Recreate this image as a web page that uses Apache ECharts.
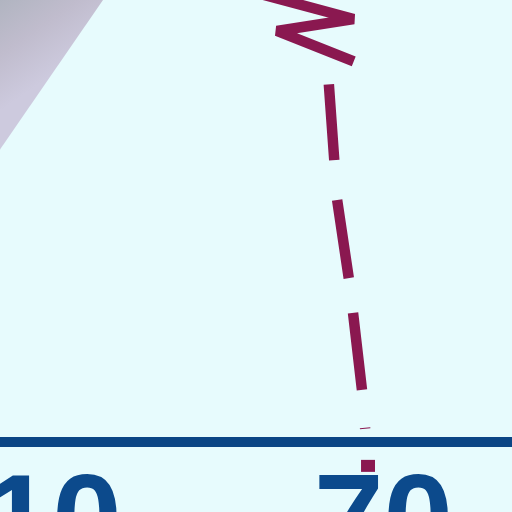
<!DOCTYPE html>
<html style="height: 100%">
   <head>
       <meta charset="utf-8">
       <script src="https://cdn.jsdelivr.net/npm/echarts@6/dist/echarts.min.js"></script>
   </head>
   <body style="height: 100%; margin: 0; background: #e7fbfd;">
     <div id="container" style="width: 512px; height: 512px;"></div>
     <script type="text/javascript">
        // tick labels shown on the x axis
        var xTicks = [10, 70];

        // dashed line (x, y)
        var lineX = [47.6, 64.6, 50.7, 64.8, 60.1, 61.6, 63.9, 66.1, 66.7];
        var lineY = [101.4, 95.7, 93.0, 86.0, 81.0, 54.8, 35.5, 11.8, 2.7];

        // end marker below the axis
        var markX = [67.2];
        var markY = [-5.4];

        // shaded band edge in the top-left corner
        var bandX = [0, 19.2];
        var bandY = [65.2, 100];

        function pairs(xs, ys) {
            var out = [];
            for (var i = 0; i < xs.length; i++) {
                out.push([xs[i], ys[i]]);
            }
            return out;
        }

        var dom = document.getElementById("container");
        var myChart = echarts.init(dom);
        var option = {
            animation: false,
            backgroundColor: '#e7fbfd',
            grid: {
                left: -3,
                right: -4,
                top: 0,
                bottom: 70,
                containLabel: false,
                outerBoundsMode: 'none'
            },
            xAxis: {
                type: 'value',
                min: 0,
                max: 94,
                splitLine: {show: false},
                axisTick: {show: false},
                axisLine: {
                    lineStyle: {color: '#0b4585', width: 10, cap: 'butt'}
                },
                axisLabel: {
                    customValues: xTicks,
                    margin: 22,
                    color: '#0c4a8c',
                    fontSize: 125,
                    fontWeight: 'bold',
                    fontFamily: 'Liberation Sans'
                }
            },
            yAxis: {
                type: 'value',
                min: 0,
                max: 100,
                show: false
            },
            series: [
                {
                    // grey band
                    type: 'line',
                    data: pairs(bandX, bandY),
                    showSymbol: false,
                    lineStyle: {width: 0},
                    areaStyle: {
                        origin: 'end',
                        opacity: 1,
                        color: new echarts.graphic.LinearGradient(0, 0, 1, 1, [
                            {offset: 0, color: '#b0b4c0'},
                            {offset: 0.25, color: '#c0bccd'},
                            {offset: 0.5, color: '#cdcade'}
                        ])
                    }
                },
                {
                    type: 'line',
                    data: pairs(lineX, lineY),
                    showSymbol: false,
                    clip: false,
                    lineStyle: {
                        color: '#8a1850',
                        width: 10.5,
                        cap: 'butt',
                        join: 'bevel',
                        type: [257.5, 35.5, 76, 40, 79, 35, 77.5, 38, 1, 200]
                    }
                },
                {
                    type: 'scatter',
                    data: pairs(markX, markY),
                    clip: false,
                    symbol: 'rect',
                    symbolSize: [14, 12],
                    itemStyle: {color: '#8a1850', opacity: 1}
                }
            ]
        };
        myChart.setOption(option, true);
     </script>
   </body>
</html>
